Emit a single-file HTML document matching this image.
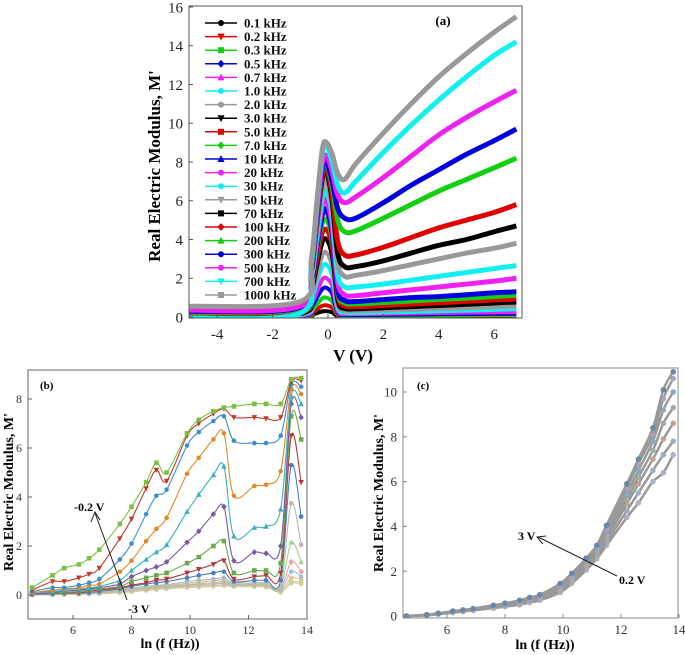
<!DOCTYPE html>
<html><head><meta charset="utf-8">
<style>
html,body{margin:0;padding:0;background:#fff;}
svg{display:block;font-family:"Liberation Serif",serif;}
svg text{font-family:"Liberation Serif",serif;}
</style></head>
<body>
<svg id="fig" width="685" height="655" viewBox="0 0 685 655" xmlns="http://www.w3.org/2000/svg">
<rect width="685" height="655" fill="#fff"/>
<g id="pa"></g>
<g id="pb"></g>
<g id="pc"></g>
</svg>
<script>
// ---------- Panel (a) data ----------
const aV = [-5,-1,-0.6,-0.4,-0.2,-0.05,0.15,0.35,0.6,1,2,3,4,5,6,6.8];
const aLabels = ["0.1 kHz","0.2 kHz","0.3 kHz","0.5 kHz","0.7 kHz","1.0 kHz","2.0 kHz","3.0 kHz","5.0 kHz","7.0 kHz","10 kHz","20 kHz","30 kHz","50 kHz","70 kHz","100 kHz","200 kHz","300 kHz","500 kHz","700 kHz","1000 kHz"];
const aColors = ["#000","#e00000","#10d010","#0000e0","#f020f0","#10f0f0","#999","#000","#e00000","#10d010","#0000e0","#f020f0","#10f0f0","#999","#000","#e00000","#10d010","#0000e0","#f020f0","#10f0f0","#999"];
const aMarkers = ["circle","tdown","square","diamond","tup","circle","circle","tdown","square","diamond","tup","circle","circle","tdown","square","diamond","tup","circle","circle","tdown","square"];
const a01 = [0.01,0.01,0.1,0.2,0.29,0.3,0.24,0.03,0.01,0.01,0.01,0.02,0.02,0.02,0.02,0.02];
const a02 = [0.01,0.02,0.2,0.4,0.58,0.6,0.48,0.08,0.04,0.03,0.04,0.04,0.05,0.05,0.06,0.06];
const a03 = [0.02,0.04,0.33,0.65,0.97,1.0,0.8,0.13,0.07,0.06,0.07,0.08,0.08,0.09,0.1,0.1];
const a05 = [0.02,0.05,0.5,1.0,1.45,1.5,1.2,0.2,0.11,0.1,0.11,0.12,0.14,0.15,0.16,0.17];
const a07 = [0.02,0.07,0.65,1.3,1.95,2.0,1.6,0.3,0.16,0.15,0.17,0.19,0.21,0.23,0.24,0.25];
const a1 = [0.02,0.1,0.9,1.8,2.6,2.7,2.1,0.45,0.22,0.2,0.23,0.26,0.3,0.33,0.37,0.4];
const a2 = [0.1,0.15,1.1,2.1,3.2,3.3,2.6,0.6,0.32,0.3,0.33,0.37,0.42,0.46,0.51,0.55];
const a3 = [0.05,0.15,1.3,2.6,3.85,4.0,3.1,0.8,0.42,0.4,0.45,0.51,0.57,0.63,0.7,0.75];
const a5 = [0.1,0.2,1.5,2.9,4.3,4.5,3.5,1.0,0.55,0.5,0.57,0.64,0.71,0.78,0.85,0.9];
const a7 = [0.1,0.25,1.6,3.3,4.8,5.0,3.9,1.2,0.7,0.65,0.72,0.8,0.88,0.95,1.03,1.1];
const a10 = [0.15,0.3,1.8,3.6,5.3,5.5,4.3,1.4,0.85,0.8,0.9,1.0,1.05,1.15,1.25,1.3];
const a20 = [0.2,0.35,2.0,3.9,5.8,6.0,4.7,1.8,1.15,1.1,1.25,1.4,1.55,1.7,1.85,2.0];
const a30 = [0.1,0.3,2.1,4.2,6.2,6.5,5.2,2.2,1.55,1.55,1.7,1.9,2.1,2.3,2.5,2.65];
const a50 = [0.3,0.45,2.3,4.6,6.7,7.0,5.6,2.8,2.1,2.15,2.4,2.7,3.0,3.3,3.55,3.8];
const a70 = [0.15,0.35,2.4,4.9,7.2,7.5,6.0,3.3,2.6,2.6,2.9,3.3,3.7,4.0,4.4,4.7];
const a100 = [0.2,0.4,2.5,5.0,7.4,7.7,6.3,3.9,3.2,3.2,3.6,4.1,4.6,5.0,5.4,5.8];
const a200 = [0.25,0.45,2.6,5.2,7.6,7.9,6.8,5.0,4.4,4.45,5.1,5.8,6.5,7.1,7.7,8.2];
const a300 = [0.3,0.5,2.7,5.3,7.7,8.0,7.0,5.6,5.1,5.1,5.9,6.8,7.6,8.4,9.1,9.7];
const a500 = [0.35,0.55,2.8,5.5,8.0,8.3,7.5,6.3,5.9,6.2,7.2,8.3,9.4,10.3,11.1,11.7];
const a700 = [-0.05,0.2,2.8,5.8,8.5,8.8,8.0,6.8,6.4,7.0,8.5,9.9,11.2,12.4,13.5,14.2];
const a1000 = [0.55,0.8,3.0,6.0,8.7,9.0,8.4,7.4,7.1,7.9,9.5,11.0,12.4,13.6,14.7,15.5];
const aSeries = [a01,a02,a03,a05,a07,a1,a2,a3,a5,a7,a10,a20,a30,a50,a70,a100,a200,a300,a500,a700,a1000];
const aXTicks = [-4,-2,0,2,4,6];
const aYTicks = [0,2,4,6,8,10,12,14,16];

// ---------- Panel (b) data ----------
const lnF = [4.6,5.3,5.7,6.2,6.55,6.9,7.6,8.0,8.5,8.85,9.2,9.9,10.3,10.8,11.16,11.5,12.2,12.6,13.1,13.46,13.8];
const b1 = [0.3,0.8,1.1,1.25,1.5,1.85,2.9,3.6,4.6,5.4,5.0,6.6,7.15,7.5,7.65,7.7,7.8,7.8,7.8,8.8,8.85];
const b2 = [0.2,0.55,0.55,0.7,0.85,1.1,2.3,3.1,4.35,5.1,4.65,6.5,7.0,7.4,7.6,7.25,7.25,7.2,7.25,8.7,8.75];
const b3 = [0.15,0.3,0.3,0.4,0.5,0.65,1.45,2.1,3.3,4.05,4.3,6.1,6.65,7.1,7.3,6.3,6.2,6.2,6.5,8.6,8.5];
const b4 = [0.1,0.2,0.25,0.3,0.4,0.45,0.95,1.4,2.2,2.7,3.15,4.95,5.6,6.35,6.6,4.05,4.45,4.5,5.05,8.4,8.2];
const b5 = [0.1,0.15,0.2,0.25,0.3,0.35,0.6,1.0,1.45,1.75,2.05,3.4,4.1,4.9,5.25,2.4,2.75,2.8,3.5,8.1,7.8];
const b6 = [0.05,0.1,0.15,0.2,0.25,0.3,0.45,0.75,1.0,1.15,1.35,2.15,2.6,3.3,3.6,1.4,1.75,1.7,2.0,7.8,7.25];
const b7 = [0.05,0.08,0.1,0.15,0.2,0.25,0.35,0.55,0.7,0.8,0.9,1.3,1.55,2.0,2.2,0.9,1.0,1.0,1.3,7.3,6.35];
const b8 = [0.05,0.06,0.08,0.1,0.15,0.2,0.3,0.4,0.5,0.6,0.65,0.9,1.05,1.25,1.4,0.65,0.75,0.8,0.9,6.5,4.6];
const b9 = [0.03,0.05,0.07,0.08,0.1,0.15,0.25,0.35,0.45,0.5,0.55,0.7,0.8,0.9,0.95,0.55,0.6,0.6,0.6,5.3,3.2];
const b10 = [0.02,0.04,0.05,0.07,0.09,0.12,0.2,0.28,0.35,0.4,0.42,0.55,0.6,0.65,0.7,0.5,0.5,0.5,0.35,3.75,2.05];
const b11 = [0.02,0.03,0.05,0.06,0.08,0.1,0.18,0.25,0.3,0.35,0.38,0.48,0.52,0.58,0.62,0.45,0.45,0.45,0.3,2.15,1.35];
const b12 = [0.01,0.03,0.04,0.05,0.07,0.09,0.16,0.22,0.28,0.32,0.35,0.42,0.46,0.5,0.55,0.42,0.42,0.42,0.25,1.35,0.95];
const b13 = [0.01,0.02,0.03,0.05,0.06,0.08,0.14,0.2,0.25,0.3,0.32,0.38,0.42,0.45,0.48,0.4,0.4,0.4,0.2,0.95,0.75];
const b14 = [0.0,0.02,0.03,0.04,0.05,0.07,0.12,0.18,0.22,0.27,0.3,0.35,0.38,0.4,0.42,0.38,0.38,0.36,0.15,0.7,0.6];
const b15 = [0.0,0.01,0.02,0.03,0.05,0.06,0.1,0.15,0.2,0.24,0.27,0.32,0.35,0.37,0.4,0.36,0.36,0.34,0.1,0.55,0.5];
const b16 = [0.0,0.01,0.02,0.03,0.04,0.05,0.09,0.13,0.18,0.22,0.25,0.3,0.32,0.35,0.37,0.34,0.34,0.32,0.12,0.48,0.45];
const bSeries = [b16,b15,b14,b13,b12,b11,b10,b9,b8,b7,b6,b5,b4,b3,b2,b1];
const bColors = ["#d8c8a0","#c0d8a0","#f0c090","#a0c0e0","#f0a0a0","#a8d08d","#b8b8b8","#4a7fc0","#b03838","#6aa84f","#7a5aa0","#3ab0c0","#e08a2c","#3b8fd0","#c0392b","#7ac143"];
const bMarkers = ["circle","circle","circle","circle","diamond","tup","circle","circle","tdown","square","diamond","tup","circle","circle","tdown","square"];
const bXTicks = [6,8,10,12,14];
const bYTicks = [0,2,4,6,8];

// ---------- Panel (c) data ----------
const c1 = [0,0.03,0.08,0.15,0.2,0.25,0.35,0.42,0.5,0.6,0.7,1.05,1.45,2.05,2.55,3.15,4.4,5.05,6.0,6.4,7.2];
const c2 = [0,0.04,0.09,0.17,0.22,0.27,0.38,0.45,0.55,0.65,0.75,1.12,1.55,2.15,2.65,3.3,4.7,5.5,6.5,7.2,7.8];
const c3 = [0,0.04,0.1,0.18,0.23,0.28,0.4,0.48,0.58,0.68,0.8,1.2,1.6,2.25,2.75,3.45,5.0,5.9,7.0,7.9,8.6];
const c4 = [0,0.05,0.1,0.19,0.24,0.3,0.42,0.5,0.6,0.72,0.84,1.27,1.68,2.35,2.85,3.6,5.2,6.2,7.4,8.6,9.3];
const c5 = [0,0.05,0.11,0.2,0.25,0.31,0.44,0.52,0.63,0.75,0.88,1.33,1.75,2.45,2.95,3.75,5.45,6.5,7.8,9.2,10.0];
const c6 = [0,0.05,0.12,0.21,0.26,0.32,0.46,0.55,0.66,0.79,0.92,1.4,1.82,2.52,3.05,3.9,5.7,6.8,8.1,9.7,10.6];
const c7 = [0,0.06,0.12,0.22,0.27,0.33,0.48,0.57,0.7,0.83,0.95,1.45,1.9,2.58,3.15,4.05,5.9,7.0,8.4,10.1,10.9];
const cSeries = [c1,c2,c3,c4,c5,c6,c7];
const cColors = ["#b0b0c8","#9ab0c0","#c8a090","#a0b0a0","#8aa8c8","#b0a0c0","#6a88a8"];
const cXTicks = [6,8,10,12,14];
const cYTicks = [0,2,4,6,8,10];

const NS = "http://www.w3.org/2000/svg";
function mk(parent, tag, attrs, text){
  const e = document.createElementNS(NS, tag);
  for (const k in attrs) e.setAttribute(k, attrs[k]);
  if (text !== undefined) e.textContent = text;
  parent.appendChild(e);
  return e;
}
function lin(d0,d1,r0,r1){ return v => r0 + (v-d0)*(r1-r0)/(d1-d0); }
function smoothPath(pts){
  let d = "M"+pts[0][0].toFixed(2)+","+pts[0][1].toFixed(2);
  for (let i=0;i<pts.length-1;i++){
    const p0 = pts[Math.max(0,i-1)], p1 = pts[i], p2 = pts[i+1], p3 = pts[Math.min(pts.length-1,i+2)];
    const t = 6;
    const c1x = p1[0]+(p2[0]-p0[0])/t, c1y = p1[1]+(p2[1]-p0[1])/t;
    const c2x = p2[0]-(p3[0]-p1[0])/t, c2y = p2[1]-(p3[1]-p1[1])/t;
    d += " C"+c1x.toFixed(2)+","+c1y.toFixed(2)+" "+c2x.toFixed(2)+","+c2y.toFixed(2)+" "+p2[0].toFixed(2)+","+p2[1].toFixed(2);
  }
  return d;
}
function marker(g, type, x, y, r, color){
  let e;
  if (type==="circle") e = mk(g,"circle",{cx:x,cy:y,r:r,fill:color});
  else if (type==="square") e = mk(g,"rect",{x:x-r,y:y-r,width:2*r,height:2*r,fill:color});
  else if (type==="diamond") e = mk(g,"polygon",{points:`${x},${y-r*1.3} ${x+r*1.2},${y} ${x},${y+r*1.3} ${x-r*1.2},${y}`,fill:color});
  else if (type==="tup") e = mk(g,"polygon",{points:`${x},${y-r*1.3} ${x+r*1.2},${y+r} ${x-r*1.2},${y+r}`,fill:color});
  else e = mk(g,"polygon",{points:`${x},${y+r*1.3} ${x+r*1.2},${y-r} ${x-r*1.2},${y-r}`,fill:color});
  
  
  return e;
}
function axes(g, L, T, R, B, xs, ys, xTicks, yTicks, opt){
  const frame = mk(g,"rect",{x:L,y:T,width:R-L,height:B-T,fill:"none",stroke:opt.frame,"stroke-width":1});
  
  
  xTicks.forEach(v=>{
    const x = xs(v);
    mk(g,"line",{x1:x,y1:B,x2:x,y2:B-4,stroke:opt.frame});
    const t = mk(g,"text",{x:x,y:opt.xLabY,"text-anchor":"middle","font-size":opt.fs,fill:opt.tc,"font-family":"Liberation Serif, serif"},String(v));
    
    
  });
  yTicks.forEach(v=>{
    const y = ys(v);
    mk(g,"line",{x1:L,y1:y,x2:L+4,y2:y,stroke:opt.frame});
    const t = mk(g,"text",{x:opt.yLabX,y:y+opt.fs*0.35,"text-anchor":"end","font-size":opt.fs,fill:opt.tc,"font-family":"Liberation Serif, serif"},String(v));
    
    
  });
}

// ===== Panel A =====
(function(){
  const g = document.getElementById("pa");
  const L=189,T=6,R=522,B=318;
  const xs = lin(-5,7,L+0.5,L+0.5+12*27.7);
  const ys = lin(0,16,317,7);
  const clip = mk(g,"clipPath",{id:"clipA"});
  mk(clip,"rect",{x:L,y:T,width:R-L,height:B-T});
  const sg = mk(g,"g",{"clip-path":"url(#clipA)"});
  
  
  aSeries.forEach((s,i)=>{
    const pts = s.map((v,j)=>[xs(aV[j]),ys(v)]);
    const p = mk(sg,"path",{d:smoothPath(pts),fill:"none",stroke:aColors[i],"stroke-width":i>=10?5:4,"stroke-linejoin":"round"});
    
    
  });
  axes(g,L,T,R,B,xs,ys,aXTicks,aYTicks,{frame:"#555",fs:15,tc:"#222",xLabY:339,yLabX:183});
  const lg = mk(g,"g",{});
  
  
  aLabels.forEach((lab,i)=>{
    const y = 23 + i*13.6;
    const e = mk(lg,"g",{});
    
    
    mk(e,"line",{x1:205,y1:y,x2:237,y2:y,stroke:aColors[i],"stroke-width":1.5});
    marker(e,aMarkers[i],221,y,3,aColors[i]);
    mk(e,"text",{x:244,y:y+4.5,"font-size":13,"font-weight":"bold",fill:"#111"},lab);
  });
  const pl = mk(g,"text",{x:443,y:25,"font-size":13,"font-weight":"bold","text-anchor":"middle"},"(a)");
  
  
  const xl = mk(g,"text",{x:353,y:361,"font-size":17,"font-weight":"bold","text-anchor":"middle"},"V (V)");
  
  
  const yl = mk(g,"text",{x:0,y:0,"font-size":17,"font-weight":"bold","text-anchor":"middle",transform:"translate(160,166) rotate(-90)"},"Real Electric Modulus, M'");
  
  
})();

// ===== Panel B =====
(function(){
  const g = document.getElementById("pb");
  const L=28,T=370,R=307,B=619;
  const xs = lin(6,14,73,307);
  const ys = lin(0,8,595,399);
  const clip = mk(g,"clipPath",{id:"clipB"});
  mk(clip,"rect",{x:L,y:T,width:R-L,height:B-T});
  const sg = mk(g,"g",{"clip-path":"url(#clipB)"});
  
  
  bSeries.forEach((s,i)=>{
    const pts = s.map((v,j)=>[xs(lnF[j]),ys(v)]);
    const p = mk(sg,"path",{d:smoothPath(pts),fill:"none",stroke:bColors[i],"stroke-width":1.1});
    
    
    pts.forEach(pt=>marker(sg,bMarkers[i],pt[0],pt[1],2.3,bColors[i]));
  });
  axes(g,L,T,R,B,xs,ys,bXTicks,bYTicks,{frame:"#666",fs:12,tc:"#333",xLabY:634,yLabX:22});
  const ar = mk(g,"g",{});
  
  
  mk(ar,"line",{x1:127,y1:600,x2:95,y2:513,stroke:"#222","stroke-width":1});
  mk(ar,"polyline",{points:"91,522 95,512 100,520",fill:"none",stroke:"#222","stroke-width":1});
  mk(g,"text",{x:74,y:511,"font-size":12,"font-weight":"bold"},"-0.2 V");
  mk(g,"text",{x:128,y:613,"font-size":12,"font-weight":"bold"},"-3 V");
  const pl = mk(g,"text",{x:40,y:389,"font-size":11,"font-weight":"bold"},"(b)");
  
  
  const xl = mk(g,"text",{x:170,y:648,"font-size":14,"font-weight":"bold","text-anchor":"middle"},"ln (f (Hz))");
  
  
  const yl = mk(g,"text",{x:0,y:0,"font-size":14,"font-weight":"bold","text-anchor":"middle",transform:"translate(13,492) rotate(-90)"},"Real Electric Modulus, M'");
  
  
})();

// ===== Panel C =====
(function(){
  const g = document.getElementById("pc");
  const L=403,T=368,R=678,B=618;
  const xs = lin(6,14,447,679);
  const ys = lin(0,10,616,392);
  const clip = mk(g,"clipPath",{id:"clipC"});
  mk(clip,"rect",{x:L,y:T,width:R-L,height:B-T});
  const sg = mk(g,"g",{"clip-path":"url(#clipC)"});
  
  
  cSeries.forEach((s,i)=>{
    const pts = s.map((v,j)=>[xs(lnF[j]),ys(v)]);
    const p = mk(sg,"path",{d:smoothPath(pts),fill:"none",stroke:"#999","stroke-width":2.5});
    
    
    pts.forEach(pt=>marker(sg,"circle",pt[0],pt[1],2.8,cColors[i]));
  });
  axes(g,L,T,R,B,xs,ys,cXTicks,cYTicks,{frame:"#888",fs:13,tc:"#333",xLabY:634,yLabX:397});
  const ar = mk(g,"g",{});
  
  
  mk(ar,"line",{x1:617,y1:576,x2:538,y2:537,stroke:"#222","stroke-width":1});
  mk(ar,"polyline",{points:"546,536 537,537 543,544",fill:"none",stroke:"#222","stroke-width":1});
  mk(g,"text",{x:518,y:540,"font-size":12,"font-weight":"bold"},"3 V");
  mk(g,"text",{x:619,y:584,"font-size":12,"font-weight":"bold"},"0.2 V");
  const pl = mk(g,"text",{x:417,y:389,"font-size":11,"font-weight":"bold"},"(c)");
  
  
  const xl = mk(g,"text",{x:545,y:649,"font-size":14,"font-weight":"bold","text-anchor":"middle"},"ln (f (Hz))");
  
  
  const yl = mk(g,"text",{x:0,y:0,"font-size":14,"font-weight":"bold","text-anchor":"middle",transform:"translate(383,493) rotate(-90)"},"Real Electric Modulus, M'");
  
  
})();
</script>
</body></html>
